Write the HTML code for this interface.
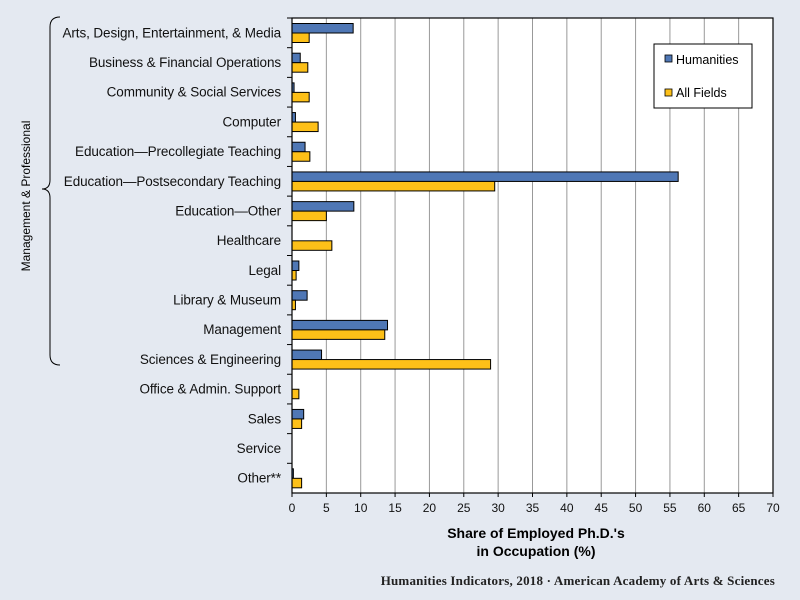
<!DOCTYPE html>
<html><head><meta charset="utf-8"><style>
body{margin:0;background:#e4e9f1;}
svg{display:block;font-family:"Liberation Sans",sans-serif;}
</style></head><body>
<svg width="800" height="600" viewBox="0 0 800 600">
<rect width="800" height="600" fill="#e4e9f1"/>
<rect x="292" y="18" width="481" height="475" fill="#fff"/>
<g id="grid" stroke="#999" stroke-width="1"></g>
<g id="bars"></g>
<rect x="292" y="18" width="481" height="475" fill="none" stroke="#000" stroke-width="1.2"/>
<g id="ticks" stroke="#000"></g>
<g id="labels" font-size="13.5" fill="#111" text-anchor="end" letter-spacing="-0.1"></g>
<g id="xl" font-size="12" fill="#111" text-anchor="middle"></g>
<text x="536" y="538" font-size="14" font-weight="bold" text-anchor="middle">Share of Employed Ph.D.'s</text>
<text x="536" y="556" font-size="14" font-weight="bold" text-anchor="middle">in Occupation (%)</text>
<rect x="654" y="44" width="98" height="64" fill="#fff" stroke="#000"/>
<rect x="665" y="55" width="7" height="7" fill="#4f77b5" stroke="#000" stroke-width="0.8"/>
<text x="676" y="64" font-size="12.5">Humanities</text>
<rect x="665" y="89" width="7" height="7" fill="#fdc018" stroke="#000" stroke-width="0.8"/>
<text x="676" y="97" font-size="12.5">All Fields</text>
<path d="M60 17 Q50 17 50 27 L50 180 Q50 189 42 189 Q50 189 50 198 L50 355 Q50 365 60 365" fill="none" stroke="#000" stroke-width="1"/>
<text transform="translate(30,196) rotate(-90)" font-size="12" text-anchor="middle">Management  &amp; Professional</text>
<text x="775" y="585" font-family="Liberation Serif,serif" font-size="13" font-weight="bold" text-anchor="end" fill="#222" letter-spacing="0.2">Humanities  Indicators, 2018  · American Academy  of Arts &amp; Sciences</text>
</svg>
<script>
(function(){
var cats=[["Arts, Design, Entertainment, & Media",8.9,2.5],["Business & Financial Operations",1.2,2.3],["Community & Social Services",0.3,2.5],["Computer",0.5,3.8],["Education—Precollegiate  Teaching",1.9,2.6],["Education—Postsecondary  Teaching",56.2,29.5],["Education—Other",9.0,5.0],["Healthcare",0,5.8],["Legal",1.0,0.6],["Library & Museum",2.2,0.5],["Management",13.9,13.5],["Sciences & Engineering",4.3,28.9],["Office & Admin. Support",0,1.0],["Sales",1.7,1.4],["Service",0,0],["Other**",0.2,1.4]];
var ns="http://www.w3.org/2000/svg",x0=292,k=481/70,T=18,h=475/16;
function el(p,t,a,txt){var e=document.createElementNS(ns,t);for(var q in a)e.setAttribute(q,a[q]);if(txt!==undefined)e.textContent=txt;document.getElementById(p).appendChild(e);}
for(var i=1;i<14;i++){var x=x0+i*5*k;el("grid","line",{x1:x,x2:x,y1:T,y2:493});}
for(var i=0;i<=14;i++){var x=x0+i*5*k;el("ticks","line",{x1:x,x2:x,y1:493,y2:497});el("xl","text",{x:x,y:512},String(i*5));}
cats.forEach(function(c,i){var y=T+i*h;el("ticks","line",{x1:287,x2:292,y1:y,y2:y});
el("labels","text",{x:281,y:y+h/2+4.5},c[0]);
if(c[1]>0)el("bars","rect",{x:x0,y:y+5.5,width:c[1]*k,height:9.5,fill:"#4f77b5",stroke:"#000","stroke-width":1});
if(c[2]>0)el("bars","rect",{x:x0,y:y+15,width:c[2]*k,height:9.5,fill:"#fdc018",stroke:"#000","stroke-width":1});});
})();
</script>
</body></html>
